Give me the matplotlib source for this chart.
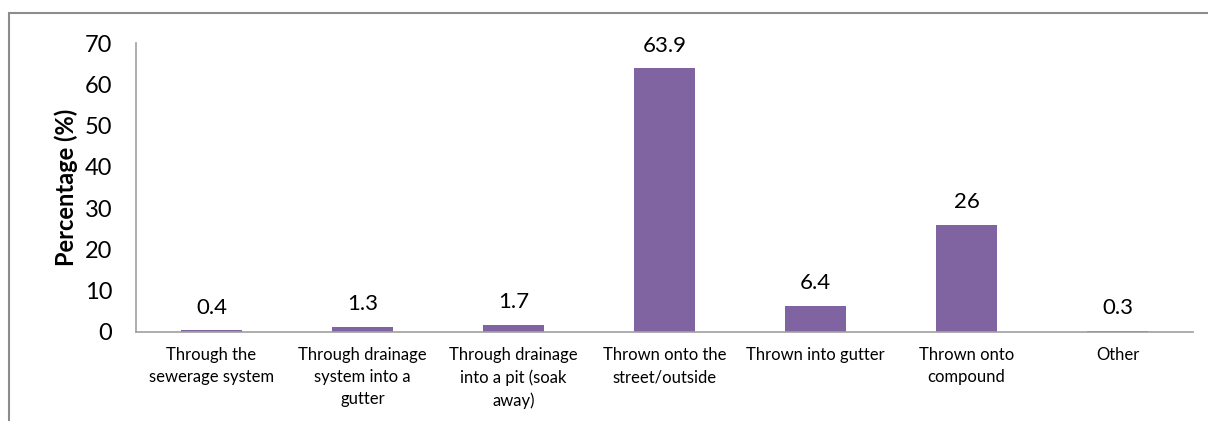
import matplotlib.pyplot as plt
from matplotlib.patches import Rectangle

# disposal methods and share of households
categories = [
    "Through the\nsewerage system",
    "Through drainage\nsystem into a\ngutter",
    "Through drainage\ninto a pit (soak\naway)",
    "Thrown onto the\nstreet/outside",
    "Thrown into gutter",
    "Thrown onto\ncompound",
    "Other",
]
percentages = [0.4, 1.3, 1.7, 63.9, 6.4, 26, 0.3]
value_labels = ["0.4", "1.3", "1.7", "63.9", "6.4", "26", "0.3"]
y_ticks = [0, 10, 20, 30, 40, 50, 60, 70]

plt.rcParams["font.family"] = ["Lato", "DejaVu Sans"]

fig = plt.figure(figsize=(12.08, 4.21), dpi=100)
ax = fig.add_axes([136 / 1208, 1 - 332 / 421, (1193 - 136) / 1208, (332 - 43) / 421])

x = range(len(categories))
ax.bar(x, percentages, width=0.4, color="#8064a2", zorder=2)

for xi, v, lab in zip(x, percentages, value_labels):
    ax.annotate(lab, (xi, v), xytext=(0, 9), textcoords="offset points",
                ha="center", va="bottom", fontsize=16, color="black")

ax.set_xlim(-0.5, len(categories) - 0.5)
ax.set_ylim(0, 70)
ax.set_yticks(y_ticks)
ax.set_yticklabels([str(t) for t in y_ticks], fontsize=17)
ax.set_xticks(list(x))
ax.set_xticklabels(categories, fontsize=12, linespacing=1.45, va="top")
ax.tick_params(axis="x", length=0, pad=11)
ax.tick_params(axis="y", length=0, pad=17)

for side in ("top", "right"):
    ax.spines[side].set_visible(False)
for side in ("left", "bottom"):
    ax.spines[side].set_color("#a0a0a0")
    ax.spines[side].set_linewidth(1.2)

ax.set_ylabel("Percentage (%)", fontsize=17, fontweight="bold", labelpad=5)

# outer chart border
fig.patches.append(Rectangle((9 / 1208, -0.05), 1.2, 1 - 13 / 421 + 0.05,
                             transform=fig.transFigure, fill=False,
                             edgecolor="#8c8c8c", linewidth=1.5))

fig.savefig("out.png", dpi=100)
